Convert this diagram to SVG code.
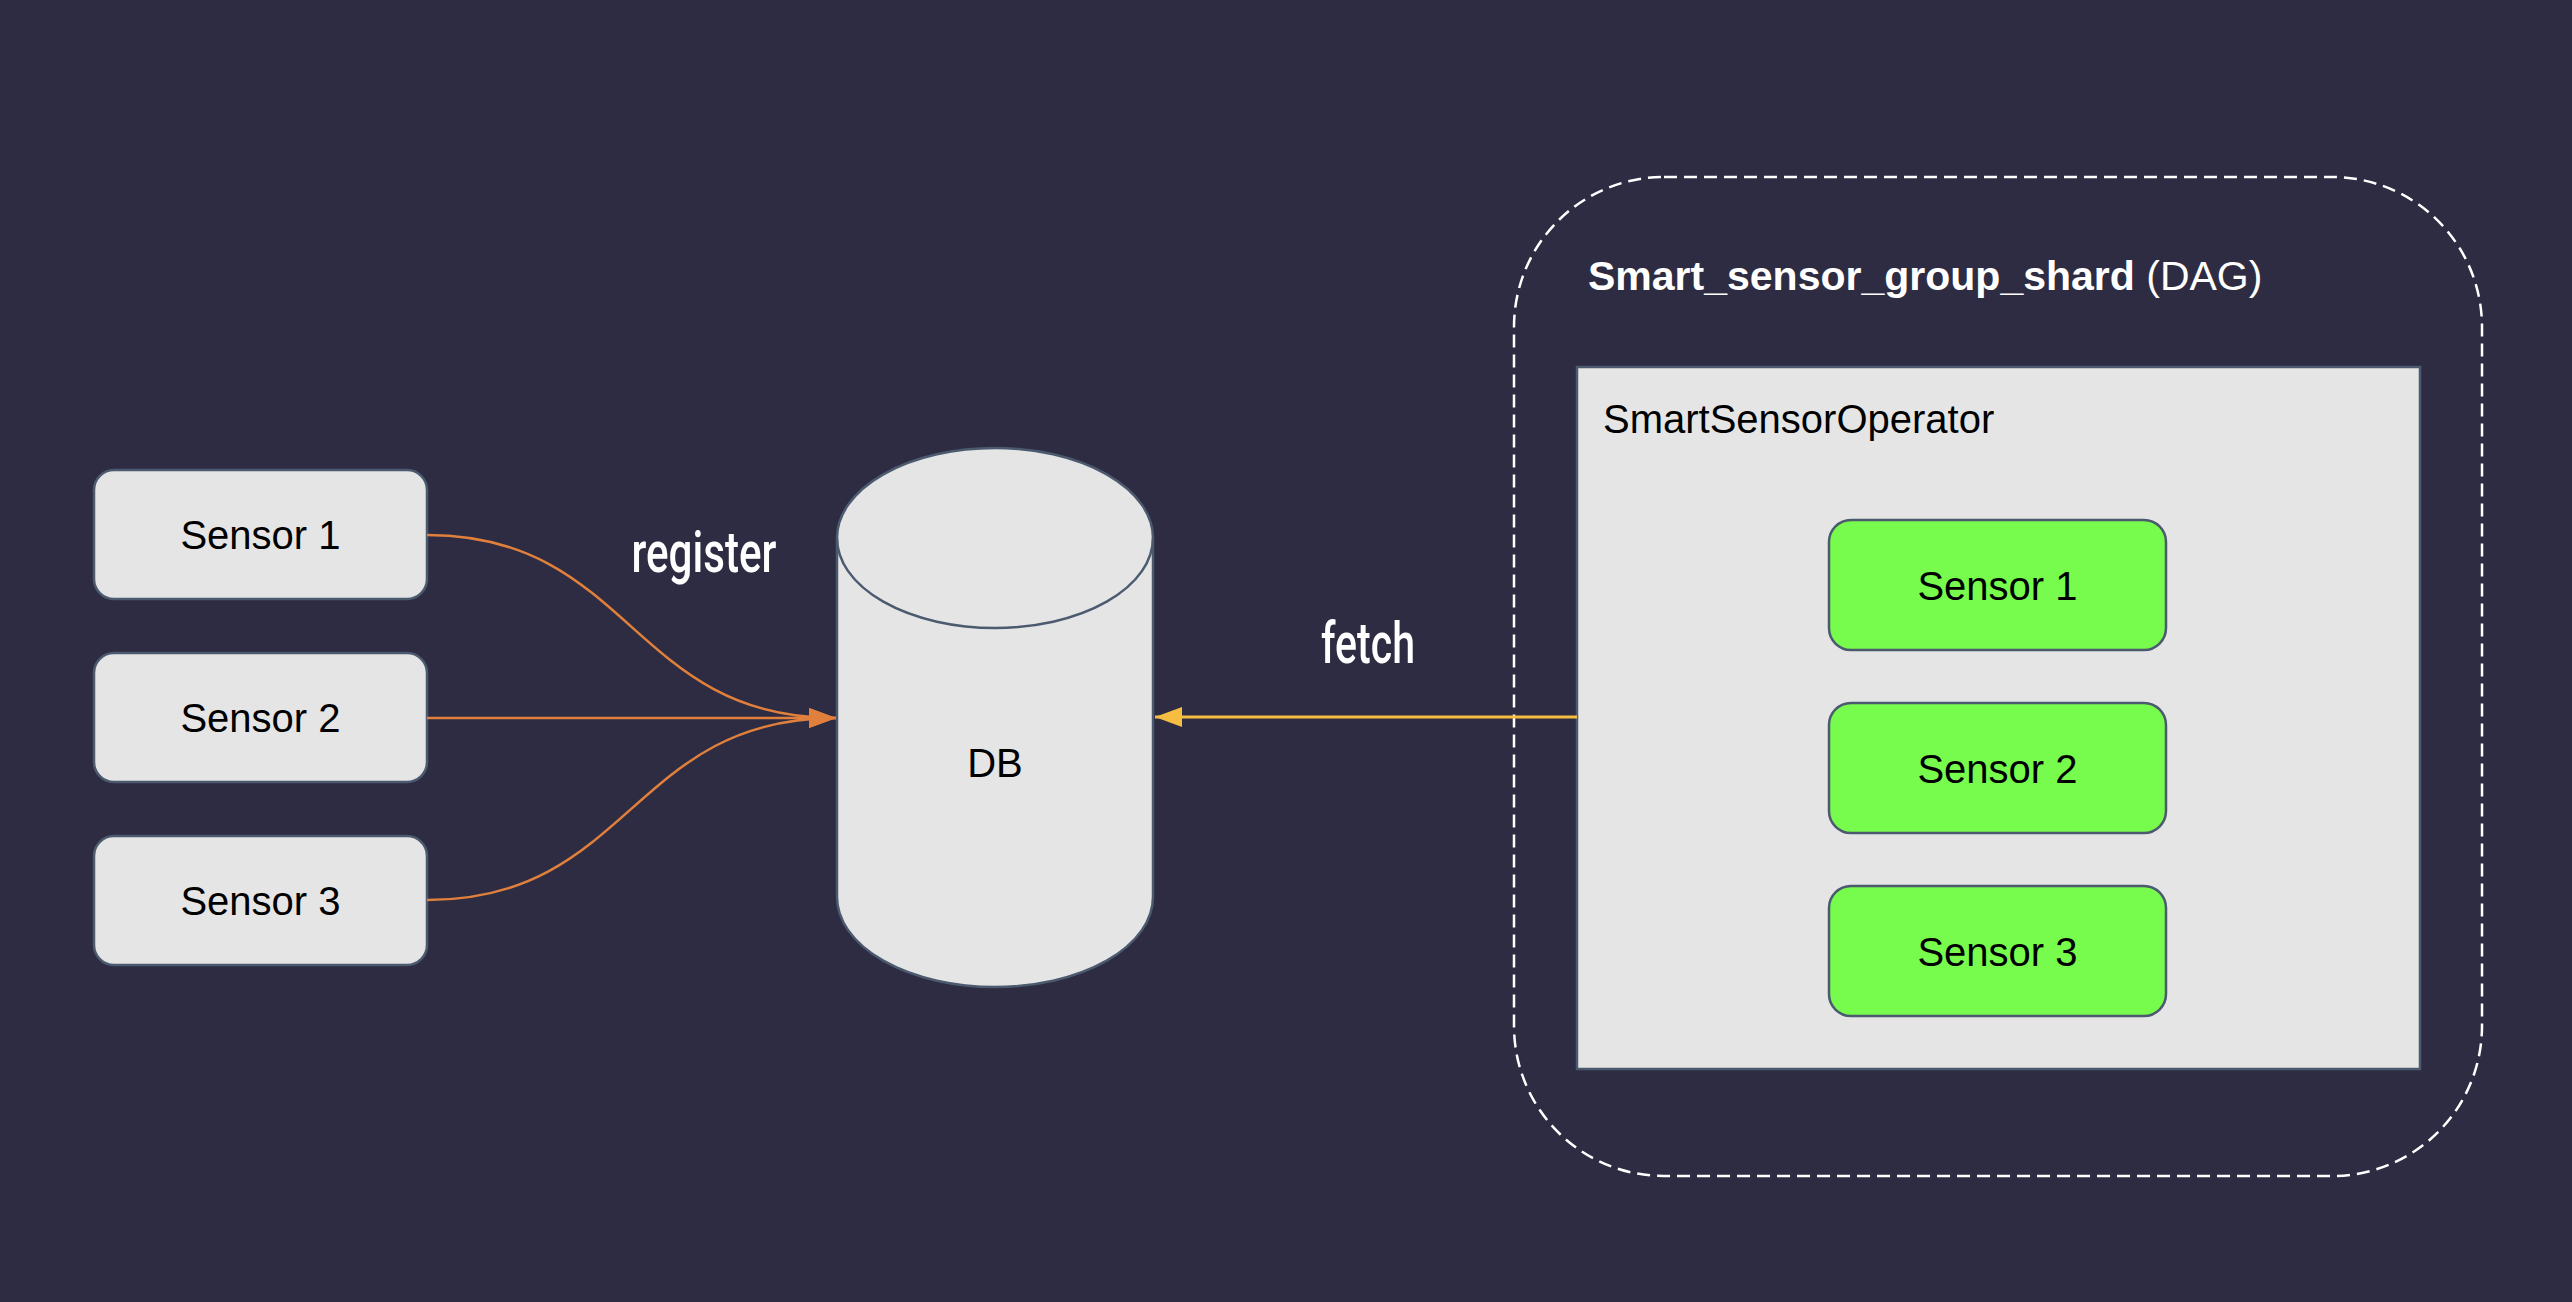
<svg xmlns="http://www.w3.org/2000/svg" width="2572" height="1302" viewBox="0 0 2572 1302">
  <style>
    .bg { fill: #2E2C42; }
    .box { fill: #E5E5E5; stroke: #4B5A6E; stroke-width: 2.5; }
    .green { fill: #77FB4C; stroke: #4B5A6E; stroke-width: 2.5; }
    .lbl { font-family: "Liberation Sans", Arial, sans-serif; font-size: 40px; fill: #000000; }
    .ctr { text-anchor: middle; }
    .edge-label { font-family: Roboto, "Liberation Sans", sans-serif; font-weight: 500; font-size: 58px; fill: #FFFFFF; text-anchor: middle; }
    .reg { fill: none; stroke: #E0803C; stroke-width: 2.5; }
    .fetch { fill: none; stroke: #F5BE41; stroke-width: 3; }
    .group { fill: none; stroke: #FFFFFF; stroke-width: 2.5; stroke-dasharray: 13 7; }
  </style>
  <defs>
    <marker id="arrowOrange" markerUnits="userSpaceOnUse" markerWidth="30" markerHeight="24" refX="27" refY="11" orient="auto">
      <path d="M0,1 L27,11 L0,21 Z" fill="#E0803C"/>
    </marker>
    <marker id="arrowYellow" markerUnits="userSpaceOnUse" markerWidth="30" markerHeight="24" refX="27" refY="11" orient="auto">
      <path d="M0,1 L27,11 L0,21 Z" fill="#F5BE41"/>
    </marker>
  </defs>

  <rect class="bg" x="0" y="0" width="2572" height="1302"/>

  <g id="dag-group">
    <rect class="group" x="1514" y="177" width="968" height="999" rx="150" ry="150"/>
    <text x="1588" y="290" font-family="'Liberation Sans', Arial, sans-serif" font-size="41" fill="#FFFFFF"><tspan font-weight="bold">Smart_sensor_group_shard</tspan> (DAG)</text>
  </g>

  <g id="smart-sensor-operator">
    <rect class="box" x="1577" y="367" width="843" height="702"/>
    <text class="lbl" x="1603" y="433">SmartSensorOperator</text>
  </g>

  <g id="op-sensor-1">
    <rect class="green" x="1829" y="520" width="337" height="130" rx="22" ry="22"/>
    <text class="lbl ctr" x="1997.5" y="600">Sensor 1</text>
  </g>
  <g id="op-sensor-2">
    <rect class="green" x="1829" y="703" width="337" height="130" rx="22" ry="22"/>
    <text class="lbl ctr" x="1997.5" y="783">Sensor 2</text>
  </g>
  <g id="op-sensor-3">
    <rect class="green" x="1829" y="886" width="337" height="130" rx="22" ry="22"/>
    <text class="lbl ctr" x="1997.5" y="966">Sensor 3</text>
  </g>

  <g id="sensor-1">
    <rect class="box" x="94" y="470" width="333" height="129" rx="20" ry="20"/>
    <text class="lbl ctr" x="260.5" y="549">Sensor 1</text>
  </g>
  <g id="sensor-2">
    <rect class="box" x="94" y="653" width="333" height="129" rx="20" ry="20"/>
    <text class="lbl ctr" x="260.5" y="732">Sensor 2</text>
  </g>
  <g id="sensor-3">
    <rect class="box" x="94" y="836" width="333" height="129" rx="20" ry="20"/>
    <text class="lbl ctr" x="260.5" y="915">Sensor 3</text>
  </g>

  <g id="db">
    <path class="box" d="M837,538 A158,90 0 0 1 1153,538 L1153,897 A158,90 0 0 1 837,897 Z"/>
    <path fill="none" stroke="#4B5A6E" stroke-width="2.5" d="M837,538 A158,90 0 0 0 1153,538"/>
    <text class="lbl ctr" x="995" y="777">DB</text>
  </g>

  <g id="connectors">
    <path class="reg" d="M427,535 C631,535 631,718 836,718" marker-end="url(#arrowOrange)"/>
    <path class="reg" d="M427,718 L836,718" marker-end="url(#arrowOrange)"/>
    <path class="reg" d="M427,900 C631,900 631,718 836,718" marker-end="url(#arrowOrange)"/>
    <path class="fetch" d="M1577,717 L1155,717" marker-end="url(#arrowYellow)"/>
    <text class="edge-label" x="704" y="572" textLength="145" lengthAdjust="spacingAndGlyphs">register</text>
    <text class="edge-label" x="1368" y="663" textLength="94" lengthAdjust="spacingAndGlyphs">fetch</text>
  </g>
</svg>
